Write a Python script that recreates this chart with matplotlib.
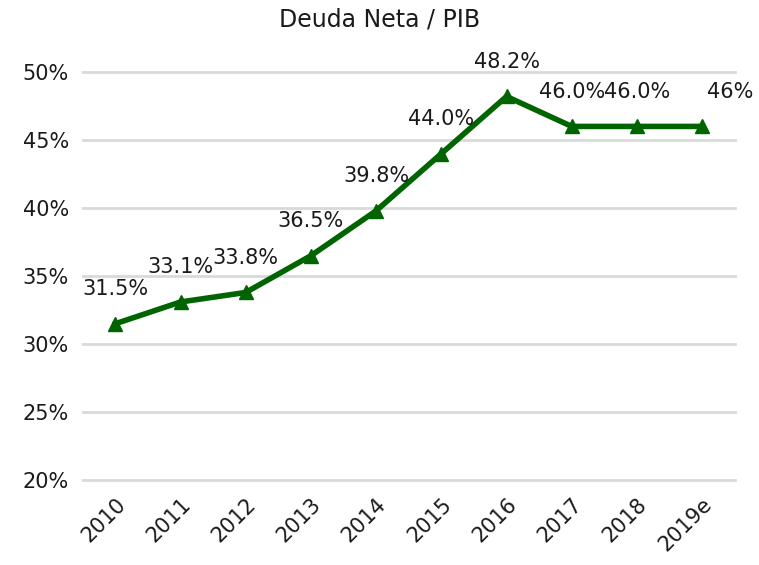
import matplotlib.pyplot as plt

years = ["2010", "2011", "2012", "2013", "2014", "2015", "2016", "2017", "2018", "2019e"]
deuda = [31.5, 33.1, 33.8, 36.5, 39.8, 44.0, 48.2, 46.0, 46.0, 46.0]
labels = ["31.5%", "33.1%", "33.8%", "36.5%", "39.8%", "44.0%", "48.2%", "46.0%", "46.0%", "46%"]

plt.rcParams['font.family'] = ['DejaVu Sans']

fig = plt.figure(figsize=(7.59, 5.65), dpi=100)
ax = fig.add_axes([0.109, 0.150, 0.859, 0.7226])

x = range(len(years))
ax.plot(x, deuda, color="#006400", linewidth=4, marker="^", markersize=10, zorder=3)

for i, (v, lab) in enumerate(zip(deuda, labels)):
    dx = 20 if i == len(years) - 1 else 0
    ax.annotate(lab, (i, v), xytext=(dx, 25), textcoords="offset points",
                ha="center", va="center", fontsize=15, color="#1a1a1a")

ax.set_xlim(-0.5, len(years) - 0.5)
ax.set_ylim(20, 50)
ax.set_yticks([20, 25, 30, 35, 40, 45, 50])
ax.set_yticklabels([f"{t}%" for t in [20, 25, 30, 35, 40, 45, 50]], fontsize=15, color="#1a1a1a")
ax.set_xticks(list(x))
ax.set_xticklabels(years, rotation=45, ha="right", rotation_mode="anchor", fontsize=15, color="#1a1a1a")
ax.tick_params(length=0, pad=10)
ax.grid(axis="y", color="#d9d9d9", linewidth=2)
for gl in ax.get_ygridlines():
    gl.set_clip_on(False)
ax.set_axisbelow(True)
for s in ax.spines.values():
    s.set_visible(False)

fig.text(0.5, 0.965, "Deuda Neta / PIB", ha="center", va="center", fontsize=17, color="#1a1a1a")

fig.savefig("out.png", dpi=100)
